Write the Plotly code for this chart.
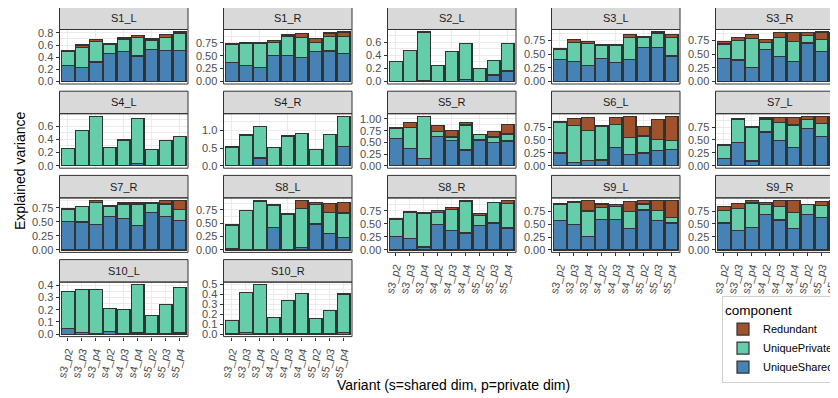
import plotly.graph_objects as go

# ---------------- data ----------------
variants = ["s3_p2", "s3_p3", "s3_p4", "s4_p2", "s4_p3", "s4_p4", "s5_p2", "s5_p3", "s5_p4"]

panels = ["S1_L", "S1_R", "S2_L", "S3_L", "S3_R",
          "S4_L", "S4_R", "S5_R", "S6_L", "S7_L",
          "S7_R", "S8_L", "S8_R", "S9_L", "S9_R",
          "S10_L", "S10_R"]

unique_shared = {
    "S1_L":  [0.27, 0.235, 0.32, 0.465, 0.49, 0.42, 0.53, 0.515, 0.51],
    "S1_R":  [0.375, 0.31, 0.265, 0.50, 0.51, 0.46, 0.575, 0.59, 0.54],
    "S2_L":  [0.005, 0.005, 0.02, 0.005, 0.005, 0.03, 0.005, 0.10, 0.16],
    "S3_L":  [0.40, 0.36, 0.29, 0.42, 0.345, 0.405, 0.62, 0.62, 0.465],
    "S3_R":  [0.42, 0.39, 0.26, 0.575, 0.45, 0.37, 0.70, 0.54, 0.435],
    "S4_L":  [0.003, 0.003, 0.003, 0.003, 0.003, 0.035, 0.003, 0.003, 0.003],
    "S4_R":  [0.005, 0.005, 0.22, 0.005, 0.005, 0.005, 0.005, 0.005, 0.54],
    "S5_R":  [0.58, 0.37, 0.16, 0.62, 0.545, 0.335, 0.55, 0.50, 0.53],
    "S6_L":  [0.245, 0.07, 0.10, 0.11, 0.35, 0.21, 0.245, 0.29, 0.31],
    "S7_L":  [0.135, 0.445, 0.09, 0.655, 0.485, 0.36, 0.725, 0.57, 0.51],
    "S7_R":  [0.51, 0.50, 0.46, 0.60, 0.56, 0.44, 0.665, 0.59, 0.52],
    "S8_L":  [0.02, 0.005, 0.005, 0.42, 0.01, 0.04, 0.485, 0.30, 0.23],
    "S8_R":  [0.26, 0.22, 0.055, 0.485, 0.37, 0.325, 0.47, 0.515, 0.42],
    "S9_L":  [0.565, 0.49, 0.26, 0.595, 0.59, 0.42, 0.775, 0.575, 0.52],
    "S9_R":  [0.52, 0.37, 0.43, 0.69, 0.575, 0.42, 0.69, 0.62, 0.54],
    "S10_L": [0.045, 0.015, 0.003, 0.02, 0.003, 0.01, 0.002, 0.002, 0.01],
    "S10_R": [0.003, 0.013, 0.003, 0.003, 0.003, 0.01, 0.003, 0.003, 0.015],
}

unique_private = {
    "S1_L":  [0.23, 0.325, 0.335, 0.15, 0.21, 0.31, 0.15, 0.215, 0.28],
    "S1_R":  [0.345, 0.435, 0.48, 0.26, 0.37, 0.39, 0.185, 0.29, 0.34],
    "S2_L":  [0.305, 0.465, 0.74, 0.245, 0.455, 0.55, 0.20, 0.22, 0.425],
    "S3_L":  [0.18, 0.35, 0.40, 0.23, 0.305, 0.395, 0.18, 0.25, 0.335],
    "S3_R":  [0.26, 0.36, 0.515, 0.135, 0.355, 0.36, 0.135, 0.22, 0.325],
    "S4_L":  [0.257, 0.527, 0.747, 0.267, 0.387, 0.685, 0.237, 0.377, 0.437],
    "S4_R":  [0.525, 0.865, 0.89, 0.505, 0.835, 0.905, 0.445, 0.875, 0.86],
    "S5_R":  [0.22, 0.44, 0.89, 0.11, 0.07, 0.535, 0.11, 0.115, 0.15],
    "S6_L":  [0.60, 0.71, 0.58, 0.645, 0.445, 0.34, 0.33, 0.22, 0.18],
    "S7_L":  [0.26, 0.445, 0.655, 0.25, 0.355, 0.43, 0.165, 0.25, 0.27],
    "S7_R":  [0.215, 0.27, 0.39, 0.17, 0.26, 0.375, 0.165, 0.23, 0.205],
    "S8_L":  [0.445, 0.725, 0.905, 0.405, 0.66, 0.735, 0.36, 0.40, 0.46],
    "S8_R":  [0.33, 0.50, 0.64, 0.235, 0.405, 0.61, 0.19, 0.39, 0.465],
    "S9_L":  [0.32, 0.425, 0.495, 0.22, 0.245, 0.33, 0.115, 0.185, 0.115],
    "S9_R":  [0.245, 0.425, 0.475, 0.19, 0.265, 0.305, 0.18, 0.24, 0.29],
    "S10_L": [0.305, 0.35, 0.362, 0.19, 0.197, 0.395, 0.153, 0.238, 0.37],
    "S10_R": [0.137, 0.407, 0.497, 0.162, 0.337, 0.40, 0.152, 0.237, 0.39],
}

redundant = {
    "S1_L":  [0.015, 0.04, 0.04, 0.015, 0.02, 0.03, 0.02, 0.05, 0.025],
    "S1_R":  [0.02, 0.015, 0.01, 0.03, 0.02, 0.08, 0.07, 0.06, 0.08],
    "S2_L":  [0.0, 0.0, 0.0, 0.0, 0.0, 0.0, 0.0, 0.0, 0.0],
    "S3_L":  [0.025, 0.06, 0.04, 0.015, 0.015, 0.06, 0.025, 0.03, 0.055],
    "S3_R":  [0.05, 0.05, 0.075, 0.05, 0.085, 0.155, 0.055, 0.14, 0.13],
    "S4_L":  [0.0, 0.0, 0.0, 0.0, 0.0, 0.0, 0.0, 0.0, 0.0],
    "S4_R":  [0.0, 0.0, 0.0, 0.0, 0.0, 0.0, 0.0, 0.0, 0.0],
    "S5_R":  [0.02, 0.11, 0.01, 0.13, 0.135, 0.05, 0.01, 0.125, 0.20],
    "S6_L":  [0.01, 0.14, 0.26, 0.015, 0.145, 0.41, 0.19, 0.385, 0.47],
    "S7_L":  [0.01, 0.03, 0.01, 0.035, 0.10, 0.145, 0.07, 0.14, 0.18],
    "S7_R":  [0.015, 0.01, 0.03, 0.015, 0.02, 0.025, 0.02, 0.065, 0.16],
    "S8_L":  [0.0, 0.0, 0.005, 0.015, 0.005, 0.15, 0.035, 0.16, 0.19],
    "S8_R":  [0.015, 0.02, 0.015, 0.04, 0.045, 0.015, 0.045, 0.01, 0.065],
    "S9_L":  [0.015, 0.02, 0.195, 0.075, 0.05, 0.185, 0.065, 0.20, 0.325],
    "S9_R":  [0.075, 0.105, 0.05, 0.035, 0.115, 0.225, 0.01, 0.075, 0.125],
    "S10_L": [0.0, 0.0, 0.0, 0.0, 0.0, 0.0, 0.0, 0.0, 0.0],
    "S10_R": [0.0, 0.0, 0.0, 0.0, 0.0, 0.0, 0.0, 0.0, 0.0],
}

quarter_labels = ["0.00", "0.25", "0.50", "0.75"]
y_tick_labels = {
    "S1_L": ["0.0", "0.2", "0.4", "0.6", "0.8"],
    "S1_R": quarter_labels,
    "S2_L": ["0.0", "0.2", "0.4", "0.6"],
    "S3_L": quarter_labels,
    "S3_R": quarter_labels,
    "S4_L": ["0.0", "0.2", "0.4", "0.6"],
    "S4_R": ["0.0", "0.5", "1.0"],
    "S5_R": ["0.00", "0.25", "0.50", "0.75", "1.00"],
    "S6_L": quarter_labels,
    "S7_L": quarter_labels,
    "S7_R": quarter_labels,
    "S8_L": quarter_labels,
    "S8_R": quarter_labels,
    "S9_L": quarter_labels,
    "S9_R": quarter_labels,
    "S10_L": ["0.0", "0.1", "0.2", "0.3", "0.4"],
    "S10_R": ["0.0", "0.1", "0.2", "0.3", "0.4", "0.5"],
}

components = ["UniqueShared", "UniquePrivate", "Redundant"]
component_colors = {"UniqueShared": "#4682B4", "UniquePrivate": "#66CDAA", "Redundant": "#A0522D"}
component_data = {"UniqueShared": unique_shared, "UniquePrivate": unique_private, "Redundant": redundant}

# ---------------- layout geometry (pixels, screen coords) ----------------
W, H = 838, 398
OFF = 8  # page body margin: figure is drawn 8px right/down of the window corner
FONT = "Liberation Sans, Arial, sans-serif"
col_left = [59.5, 223.5, 387.5, 551.5, 715.5]
panel_w = 128.5
strip_top0, row_pitch, strip_h, plot_h = 7.0, 84.2, 22.5, 54.5
BORDER = "#333333"
GRID = "#EBEBEB"


def px(x):
    return (x - OFF) / W


def py(y):
    return 1 - (y - OFF) / H


fig = go.Figure()
shapes, annotations = [], []
layout_axes = {}

for i, p in enumerate(panels):
    r, c = divmod(i, 5)
    n = i + 1
    xref = "x" if n == 1 else f"x{n}"
    yref = "y" if n == 1 else f"y{n}"
    left = col_left[c]
    right = left + panel_w
    st = strip_top0 + r * row_pitch
    sb = st + strip_h
    pb = sb + plot_h

    for comp in components:
        fig.add_trace(go.Bar(
            x=variants, y=component_data[comp][p], name=comp,
            marker=dict(color=component_colors[comp], line=dict(color=BORDER, width=1.2)),
            width=0.9, xaxis=xref, yaxis=yref,
            showlegend=(i == 0), legendgroup=comp, hoverinfo="skip",
        ))

    totals = [a + b + d for a, b, d in zip(unique_shared[p], unique_private[p], redundant[p])]
    ymax = max(totals)
    yr = [-0.05 * ymax, 1.05 * ymax]
    ticks = [float(t) for t in y_tick_labels[p]]
    step = ticks[1] - ticks[0]
    minor = [t + step / 2 for t in ticks]

    bottom = (i + 5) >= len(panels)

    layout_axes["xaxis" if n == 1 else f"xaxis{n}"] = dict(
        domain=[px(left), min(px(right), 1.0)], anchor=yref, type="category",
        categoryorder="array", categoryarray=variants, range=[-0.6, 8.6],
        showgrid=True, gridcolor=GRID, gridwidth=1, zeroline=False, showline=False,
        ticks="outside" if bottom else "", ticklen=3, tickwidth=1, tickcolor=BORDER,
        showticklabels=bottom, tickangle=-75, automargin=False,
        tickfont=dict(family=FONT, size=11, color="#4D4D4D"),
    )
    layout_axes["yaxis" if n == 1 else f"yaxis{n}"] = dict(
        domain=[py(pb), py(sb)], anchor=xref, range=yr,
        tickmode="array", tickvals=ticks, ticktext=y_tick_labels[p],
        showgrid=True, gridcolor=GRID, gridwidth=1, zeroline=False, showline=False,
        ticks="outside", ticklen=3, tickwidth=1, tickcolor=BORDER, automargin=False,
        tickfont=dict(family=FONT, size=11, color="#4D4D4D"),
        minor=dict(tickmode="array", tickvals=minor, showgrid=True, gridcolor=GRID, gridwidth=0.5, ticks=""),
    )

    # strip
    shapes.append(dict(type="rect", xref="paper", yref="paper",
                       x0=px(left), x1=px(right), y0=py(sb), y1=py(st),
                       fillcolor="#D9D9D9", line=dict(color=BORDER, width=1), layer="above"))
    # panel border
    shapes.append(dict(type="rect", xref="paper", yref="paper",
                       x0=px(left), x1=px(right), y0=py(pb), y1=py(sb),
                       fillcolor="rgba(0,0,0,0)", line=dict(color=BORDER, width=1), layer="above"))
    annotations.append(dict(text=p, xref="paper", yref="paper",
                            x=px(left + panel_w / 2), y=py((st + sb) / 2),
                            showarrow=False, xanchor="center", yanchor="middle",
                            font=dict(family=FONT, size=11, color="#1A1A1A")))

annotations.append(dict(text="Explained variance", xref="paper", yref="paper",
                        x=px(20), y=py(171), textangle=-90, showarrow=False,
                        xanchor="center", yanchor="middle",
                        font=dict(family=FONT, size=14, color="black")))
annotations.append(dict(text="Variant (s=shared dim, p=private dim)", xref="paper", yref="paper",
                        x=px(453), y=py(385), showarrow=False,
                        xanchor="center", yanchor="middle",
                        font=dict(family=FONT, size=14, color="black")))

fig.update_layout(
    template="none",
    width=W, height=H,
    margin=dict(l=0, r=0, t=0, b=0, pad=0, autoexpand=False),
    paper_bgcolor="white", plot_bgcolor="white",
    barmode="stack", bargap=0.1,
    shapes=shapes, annotations=annotations,
    showlegend=True,
    legend=dict(
        title=dict(text="component", font=dict(family=FONT, size=13.5, color="black")),
        traceorder="reversed", x=px(722), y=py(296), xanchor="left", yanchor="top",
        bgcolor="white", bordercolor="#D0D0D0", borderwidth=1,
        font=dict(family=FONT, size=11, color="black"), itemwidth=30, tracegroupgap=0,
    ),
    **layout_axes,
)

fig.write_html("out.html")
